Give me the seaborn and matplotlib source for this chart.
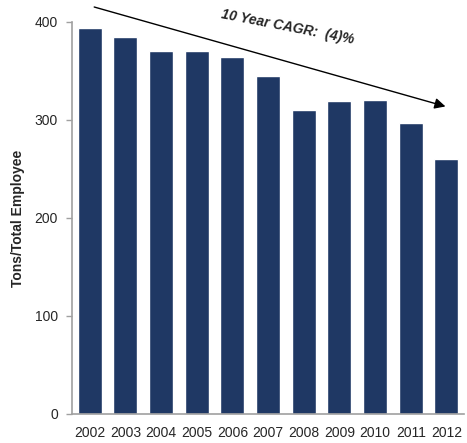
import matplotlib
matplotlib.use("Agg")
import matplotlib.pyplot as plt
import pandas as pd
import seaborn as sns

years = ["2002", "2003", "2004", "2005", "2006", "2007", "2008", "2009", "2010", "2011", "2012"]
tons_per_employee = [394, 385, 370, 370, 364, 345, 310, 319, 320, 297, 260]
y_ticks = [0, 100, 200, 300, 400]

trend_start = (0.05, 416)
trend_end = (10.05, 313)
trend_label = "10 Year CAGR:  (4)%"

df = pd.DataFrame({"Year": years, "Tons": tons_per_employee})

sns.set_theme(style="white")
plt.rcParams["font.family"] = ["Liberation Sans", "DejaVu Sans"]

fig = plt.figure(figsize=(4.67, 4.43), dpi=100)
ax = fig.add_axes([0.154, 0.0655, 0.840, 0.885])

sns.barplot(data=df, x="Year", y="Tons", color="#1f3864", width=0.67,
            saturation=1, ax=ax)

ax.set_ylim(0, 400)
ax.set_xlim(-0.5, 10.5)
ax.set_yticks(y_ticks)
ax.set_xlabel("")
ax.set_ylabel("Tons/Total Employee", fontsize=10, fontweight="bold", labelpad=7)

for side in ["top", "right"]:
    ax.spines[side].set_visible(False)
for side in ["left", "bottom"]:
    ax.spines[side].set_color("#a0a0a0")
    ax.spines[side].set_linewidth(1.2)

ax.tick_params(axis="y", left=True, length=4, width=1, color="#a0a0a0",
               labelsize=10, pad=6)
ax.tick_params(axis="x", bottom=False, labelsize=10, pad=3)

ax.annotate("", xy=trend_end, xytext=trend_start,
            arrowprops=dict(arrowstyle="-|>", color="black", lw=1, mutation_scale=16),
            annotation_clip=False)
ax.text(5.55, 395, trend_label, fontsize=10, fontweight="bold", fontstyle="italic",
        rotation=-11, ha="center", va="center", rotation_mode="anchor")

fig.savefig("out.png", dpi=100)
